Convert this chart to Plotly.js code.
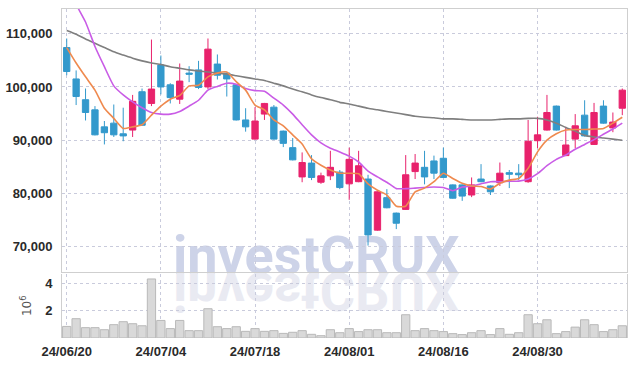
<!DOCTYPE html>
<html>
<head>
<meta charset="utf-8">
<script src="https://cdn.plot.ly/plotly-3.0.1.min.js"></script>
<style>html,body{margin:0;padding:0;background:#fff;}#chart{width:635px;height:366px;}</style>
</head>
<body>
<div id="chart"></div>
<script>
const dates = ["24/06/20","24/06/21","24/06/24","24/06/25","24/06/26","24/06/27","24/06/28",
"24/07/01","24/07/02","24/07/03","24/07/04","24/07/05","24/07/08","24/07/09","24/07/10","24/07/11","24/07/12",
"24/07/15","24/07/16","24/07/17","24/07/18","24/07/19","24/07/22","24/07/23","24/07/24","24/07/25","24/07/26",
"24/07/29","24/07/30","24/07/31","24/08/01","24/08/02","24/08/05","24/08/06","24/08/07","24/08/08","24/08/09",
"24/08/12","24/08/13","24/08/14","24/08/16","24/08/19","24/08/20","24/08/21","24/08/22","24/08/23",
"24/08/26","24/08/27","24/08/28","24/08/29","24/08/30","24/09/02","24/09/03","24/09/04","24/09/05","24/09/06",
"24/09/09","24/09/10","24/09/11","24/09/12"];

const openP  = [107400,101500,97600,95700,92500,93200,91200,91900,99100,96900,104100,100400,97700,102600,103200,100000,104300,102600,100400,93800,90200,94900,96200,91700,88600,83100,85700,82100,83300,84000,81800,82200,82700,73100,79200,76300,77000,84100,84900,86100,86600,81600,81600,79700,82700,81400,82000,83900,83800,82200,89900,91900,96400,87100,90200,94700,89200,96400,92300,96000];
const highP  = [109100,103100,99700,96400,93600,96700,96100,98500,99700,108900,105900,100700,104400,103900,104900,109100,106100,102700,100500,96000,96200,97000,96600,91800,90400,87700,87200,83900,88000,84400,88600,88000,83500,80400,80800,76400,87200,87400,88000,87100,88600,81700,81700,83000,85500,81500,85800,84400,85500,93800,94400,98500,96500,92500,94900,97500,97000,97500,95200,99700];
const lowP   = [102200,96600,93700,90900,89200,90600,89800,90600,92700,96400,98600,96900,96800,100900,99600,99600,101400,98200,93700,91600,90100,93800,90100,88700,86200,82100,82500,81800,82500,80800,78800,82100,70200,73000,77200,73300,76900,82700,81700,82700,82900,79000,78600,79300,82100,79700,81400,81000,82500,82000,88500,91800,91800,87000,88500,90700,89100,93100,91500,94700];
const closeP = [102900,98200,95200,91000,91400,91000,90800,97300,92800,99600,100000,98000,101100,102400,99900,107100,102200,101500,93800,92500,93600,96900,90200,89400,86300,85800,83000,83300,84900,81100,86400,85200,72200,80300,77300,74400,83500,85700,83100,83800,83000,79100,79500,81600,82200,80300,83800,83600,83500,89800,91000,95200,91900,89100,92700,90800,95200,93200,93400,99400];

const ma5  = [107400,104500,101900,99400,96000,94100,92200,92500,92900,94700,96400,97700,98400,100200,100300,101900,102600,102800,101000,99400,96600,95700,93800,92700,91000,89300,86500,85300,84400,83800,83800,83700,81800,80600,79700,77600,77600,80300,81000,82200,83800,82800,81900,81400,81300,80800,81900,82500,82800,84700,87800,90000,91200,91900,92000,92000,92100,92200,93200,94300];
const ma20 = [119300,115500,112200,107600,103800,100200,98500,97200,96100,95200,94900,94900,95400,96400,97500,99400,100100,100700,100500,99700,99300,99200,97900,96600,94900,92900,91000,89500,88500,87800,87000,85900,84200,83100,82100,80900,80900,81000,81100,81200,81100,80500,81200,81400,81800,82200,82200,82300,82300,82700,83700,85200,86400,87200,88300,89200,90100,91100,92100,93200];
const ma60 = [110600,109900,109000,108200,107400,106600,106000,105400,104900,104500,104200,103800,103500,103200,103000,102800,102600,102400,102100,101800,101500,101200,100700,100200,99600,99100,98500,98000,97600,97100,96800,96400,96000,95700,95400,95100,94800,94500,94300,94200,94000,94000,93900,93800,93800,93800,93900,94000,94000,94100,94100,93800,93200,92400,91700,90900,90600,90400,90200,90000];

const volume = [850000,1420000,760000,760000,610000,980000,1200000,1050000,900000,4340000,1290000,690000,1290000,540000,540000,2150000,830000,690000,830000,490000,690000,490000,540000,340000,420000,540000,270000,170000,610000,390000,690000,470000,610000,610000,390000,390000,1710000,540000,690000,540000,470000,320000,250000,390000,540000,250000,690000,270000,390000,1710000,1050000,1340000,320000,470000,800000,1340000,980000,470000,610000,900000];

const xTicks = ["24/06/20","24/07/04","24/07/18","24/08/01","24/08/16","24/08/30"];
const priceTicks = [70000,80000,90000,100000,110000];
const volTicks = [2000000,4000000];
const volTickText = ["2","4"];

const RED = '#e8226c', BLUE = '#3399cc';
const GRID = '#c9cbdc', FRAME = '#cfcfcf';
const tickFont = {family:"'Liberation Sans',Arial,sans-serif", size:13, color:'#2a2a2a', weight:'bold'};

const traces = [
  {type:'candlestick', x:dates, open:openP, high:highP, low:lowP, close:closeP, xaxis:'x', yaxis:'y',
   increasing:{line:{color:RED,width:1}, fillcolor:RED},
   decreasing:{line:{color:BLUE,width:1}, fillcolor:BLUE},
   whiskerwidth:0, hoverinfo:'skip'},
  {type:'scatter', mode:'lines', x:dates, y:ma60, xaxis:'x', yaxis:'y', line:{color:'#7f7f7f', width:1.6, shape:'spline', smoothing:0.5}, hoverinfo:'skip'},
  {type:'scatter', mode:'lines', x:dates, y:ma20, xaxis:'x', yaxis:'y', line:{color:'#c95ce6', width:1.6, shape:'spline', smoothing:0.5}, hoverinfo:'skip'},
  {type:'scatter', mode:'lines', x:dates, y:ma5, xaxis:'x', yaxis:'y', line:{color:'#ef8a4f', width:1.6, shape:'spline', smoothing:0.5}, hoverinfo:'skip'},
  {type:'bar', x:dates, y:volume, xaxis:'x2', yaxis:'y2', marker:{color:'#d9d9d9', line:{color:'#b9b9b9', width:1}}, hoverinfo:'skip'}
];

const layout = {
  width:635, height:366,
  margin:{l:62, r:8, t:9, b:28},
  paper_bgcolor:'#ffffff', plot_bgcolor:'rgba(0,0,0,0)',
  showlegend:false, hovermode:false,
  boxgap:0.33, boxgroupgap:0, bargap:0.12,
  xaxis:{type:'category', anchor:'y', range:[-0.5,59.5], rangeslider:{visible:false},
    tickvals:xTicks, showticklabels:false, ticks:'',
    showgrid:true, gridcolor:GRID, griddash:'dot', gridwidth:1,
    showline:true, mirror:true, linecolor:FRAME, linewidth:1, fixedrange:true},
  yaxis:{domain:[0.2,1], range:[65200,114640], tickvals:priceTicks, tickformat:',d',
    showgrid:true, gridcolor:GRID, griddash:'dot', gridwidth:1, zeroline:false,
    showline:true, mirror:true, linecolor:FRAME, linewidth:1, ticks:'',
    ticklabelstandoff:6, tickfont:tickFont},
  xaxis2:{type:'category', anchor:'y2', matches:'x', range:[-0.5,59.5],
    tickvals:xTicks, ticktext:xTicks, ticks:'', tickfont:tickFont, ticklabelstandoff:4,
    showgrid:true, gridcolor:GRID, griddash:'dot', gridwidth:1, showline:false},
  yaxis2:{domain:[0,0.196], range:[0,4740000], tickvals:volTicks, ticktext:volTickText,
    showgrid:true, gridcolor:GRID, griddash:'dot', gridwidth:1, zeroline:false,
    showline:true, mirror:true, linecolor:FRAME, linewidth:1, ticks:'',
    ticklabelstandoff:6, tickfont:tickFont,
    title:{text:'10<sup>6</sup>', standoff:10, font:{family:'DejaVu Sans, sans-serif', size:12, color:'#555'}}},
  shapes:[
    {type:'rect', xref:'paper', yref:'paper', x0:0.19, x1:0.71, y0:0.1935, y1:0.33, layer:'below',
     line:{width:0}, fillcolor:'rgba(0,0,0,0)',
     label:{text:'investCRUX', textposition:'middle center', font:{family:'Roboto, sans-serif', size:54, color:'#cdd3e8', weight:'bold'}}},
    {type:'rect', xref:'paper', yref:'paper', x0:0.19, x1:0.71, y0:0.1935, y1:0.33, layer:'below',
     line:{width:0}, fillcolor:'rgba(0,0,0,0)',
     label:{text:'investCRUX', textposition:'middle center', font:{family:'Roboto, sans-serif', size:54, color:'#e9eaf2', weight:'bold'}}}
  ]
};

const gd = document.getElementById('chart');
Plotly.newPlot(gd, traces, layout, {staticPlot:true, displayModeBar:false}).then(function(){
  const texts = Array.from(gd.querySelectorAll('text')).filter(t => t.textContent === 'investCRUX');
  if (texts.length >= 2) {
    const t = texts[1];
    const M = 272.5;
    const b = texts[0].getBBox();
    const base = b.y + b.height * 0.79;
    t.setAttribute('transform', 'matrix(1,0,0,-1,0,' + (base + M + 1) + ')');
  }
});
</script>
</body>
</html>
